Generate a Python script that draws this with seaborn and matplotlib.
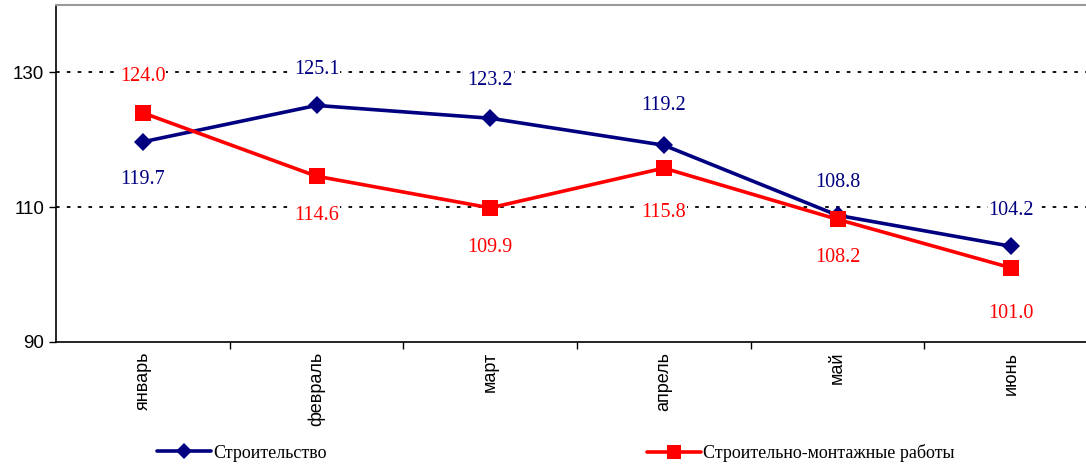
import pandas as pd
import numpy as np
import seaborn as sns
import matplotlib.pyplot as plt
from matplotlib.lines import Line2D

# данные
months = ['январь', 'февраль', 'март', 'апрель', 'май', 'июнь']
stroitelstvo = [119.7, 125.1, 123.2, 119.2, 108.8, 104.2]
smr = [124.0, 114.6, 109.9, 115.8, 108.2, 101.0]
series_names = ['Строительство', 'Строительно-монтажные работы']

# смещения подписей (px): + над точкой, - под точкой
blue_offsets = [-35, 39, 41, 43, 36, 39]
red_offsets = [39, -36, -37, -41, -35, -43]

df = pd.DataFrame({
    'x': list(range(len(months))) * 2,
    'value': stroitelstvo + smr,
    'series': [series_names[0]] * len(months) + [series_names[1]] * len(months),
})

sns.set_style('white')
plt.rcParams['font.family'] = ['Liberation Sans', 'DejaVu Sans']
plt.rcParams['text.color'] = 'black'
plt.rcParams['xtick.color'] = 'black'
plt.rcParams['ytick.color'] = 'black'

fig = plt.figure(figsize=(10.86, 4.68), dpi=100)
ax = fig.add_axes([56 / 1086, 1 - 342 / 468, (1098 - 56) / 1086, (342 - 5) / 468])

colors = {series_names[0]: '#000080', series_names[1]: '#ff0000'}
sns.lineplot(data=df, x='x', y='value', hue='series', style='series',
             palette=colors, markers={series_names[0]: 'D', series_names[1]: 's'},
             dashes=False, linewidth=2.6, markersize=10, markeredgewidth=0,
             legend=False, ax=ax)
for ln in ax.lines:
    if ln.get_marker() == 'D':
        ln.set_markersize(9.5)
    elif ln.get_marker() == 's':
        ln.set_markersize(11.5)

ax.set_xlim(-0.5, 5.5)
ax.set_ylim(90, 140)
ax.set_yticks([90, 110, 130])
ax.tick_params(axis='y', labelsize=13.5, length=5, width=1, direction='out', left=True)
ax.set_xticks(range(len(months)))
ax.set_xticklabels(months, rotation=90, fontsize=13)
ax.set_xticks(np.arange(0.5, 5.5, 1), minor=True)
ax.tick_params(axis='x', which='major', length=0, pad=7)
ax.tick_params(axis='x', which='minor', length=5, width=1, direction='out', bottom=True)
ax.set_xlabel('')
ax.set_ylabel('')

for y in [110, 130]:
    ax.axhline(y, color='black', linestyle=(0, (2, 4)), linewidth=1.3, zorder=0)

for sp in ['left', 'bottom']:
    ax.spines[sp].set_color('black')
    ax.spines[sp].set_linewidth(1.2)
ax.spines['top'].set_color('#999999')
ax.spines['top'].set_linewidth(1.5)
ax.spines['right'].set_visible(False)

px2pt = 0.72
for vals, offs, col in [(stroitelstvo, blue_offsets, '#000080'), (smr, red_offsets, '#ff0000')]:
    for i, (v, o) in enumerate(zip(vals, offs)):
        ax.annotate(f'{v:.1f}', (i, v), xytext=(0, (o - 3) * px2pt), textcoords='offset points',
                    ha='center', va='center', color=col, fontsize=14.5,
                    family='Liberation Serif',
                    bbox=dict(facecolor='white', edgecolor='none', pad=0.5),
                    zorder=1)

h1 = Line2D([], [], color='#000080', marker='D', markersize=8.5, linewidth=2.6, markeredgewidth=0)
h2 = Line2D([], [], color='#ff0000', marker='s', markersize=10.5, linewidth=2.6, markeredgewidth=0)
lg_kw = dict(frameon=False, handlelength=3.0, handletextpad=0.1, borderaxespad=0,
             prop={'family': 'Liberation Serif', 'size': 13})
fig.legend([h1], [series_names[0]], loc='center left', bbox_to_anchor=(150 / 1086, 1 - 453 / 468), **lg_kw)
fig.legend([h2], [series_names[1]], loc='center left', bbox_to_anchor=(640 / 1086, 1 - 453 / 468), **lg_kw)

fig.savefig('out.png', dpi=100)
